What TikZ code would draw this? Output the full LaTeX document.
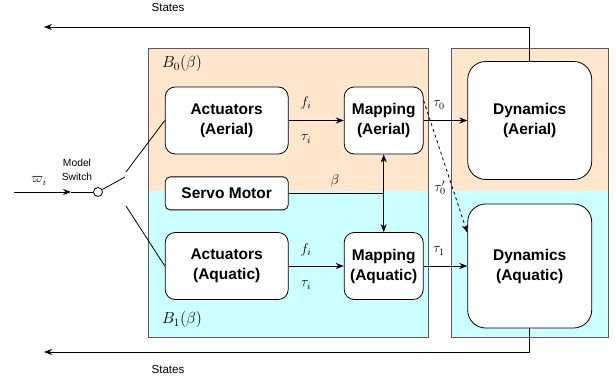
\RequirePackage{fix-cm}
\documentclass[tikz,border=0pt]{standalone}
\usepackage{fontspec}
\setsansfont{Liberation Sans}
\usetikzlibrary{arrows.meta,calc}
\definecolor{peach}{HTML}{FFE6CC}
\definecolor{aqua}{HTML}{CCFFFF}
\definecolor{frame}{HTML}{5A5A5A}
\tikzset{
  blk/.style={draw=black, line width=0.8pt, fill=white, rounded corners=10pt,
    align=center, font=\sffamily\bfseries\fontsize{15.5}{20}\selectfont,
    inner sep=0pt},
  dyn/.style={blk, rounded corners=18pt},
  wire/.style={line width=0.8pt, draw=black},
  arr/.style={wire, -{Stealth[length=8pt,width=6pt]}},
  lbl/.style={font=\sffamily\fontsize{11.6}{14}\selectfont, align=center},
  swlbl/.style={font=\sffamily\fontsize{10.3}{14}\selectfont, align=center},
  mlbl/.style={font=\fontsize{14}{16}\selectfont},
  blbl/.style={font=\fontsize{16}{18}\selectfont},
  region/.style={draw=frame, line width=0.9pt}
}
\begin{document}
\begin{tikzpicture}[x=1pt,y=-1pt]
\useasboundingbox (0,0) rectangle (616,379);

% coloured regions of the two mode blocks
\fill[peach] (148,48) rectangle (428,191);
\fill[aqua]  (148,191) rectangle (428,337);
\draw[region] (148,48) rectangle (428,337);
\fill[peach] (451,48) rectangle (608,191);
\fill[aqua]  (451,191) rectangle (608,337);
\draw[region] (451,48) rectangle (608,337);

\node[blbl] (b0) at (182,64) {$B_0(\beta)$};
\node[blbl] (b1) at (182,320) {$B_1(\beta)$};

% blocks
\node[blk, minimum width=123pt, minimum height=67pt] (actA) at (226.7,120.5) {Actuators\\(Aerial)};
\node[blk, minimum width=79pt, minimum height=67pt] (mapA) at (383.7,120.5) {Mapping\\(Aerial)};
\node[blk, rounded corners=5pt, minimum width=123pt, minimum height=33pt] (servo) at (226.7,193.4) {Servo Motor};
\node[blk, minimum width=123pt, minimum height=67pt] (actQ) at (226.7,266) {Actuators\\(Aquatic)};
\node[blk, minimum width=79pt, minimum height=67pt] (mapQ) at (383.7,266) {Mapping\\(Aquatic)};
\node[dyn, minimum width=124pt, minimum height=118pt] (dynA) at (529.7,120.5) {Dynamics\\(Aerial)};
\node[dyn, minimum width=124pt, minimum height=124pt] (dynQ) at (529.7,266) {Dynamics\\(Aquatic)};

% actuators to mapping
\draw[arr] (actA) -- (mapA);
\node[mlbl] (fA) at (306,103) {$f_i$};
\node[mlbl] (tA) at (306,139) {$\tau_i$};
\draw[arr] (actQ) -- (mapQ);
\node[mlbl] (fQ) at (306,250) {$f_i$};
\node[mlbl] (tQ) at (306,285) {$\tau_i$};

% mapping to dynamics
\draw[arr] (mapA) -- (dynA);
\node[mlbl] (t0) at (439,105) {$\tau_0$};
\draw[arr] (mapQ) -- (dynQ);
\node[mlbl] (t1) at (439,251) {$\tau_1$};
\coordinate (dsA) at ($(mapA.east)+(0,-20)$);
\coordinate (dsQ) at ($(dynQ.north west)+(0,29)$);
\draw[arr, dashed] (dsA) -- (dsQ);
\node[mlbl] (t0p) at (440,188) {$\tau_0'$};

% servo motor and mode coupling
\draw[arr, {Stealth[length=8pt,width=6pt]}-{Stealth[length=8pt,width=6pt]}] (mapA) -- (mapQ);
\coordinate (sj) at (mapA.south |- servo.east);
\draw[wire] (servo.east) -- (sj);
\node[mlbl] (beta) at (335,181) {$\beta$};

% state feedback
\coordinate (stA) at (44,27);
\coordinate (stQ) at (44,352);
\draw[arr] (dynA.north) |- (stA);
\draw[arr] (dynQ.south) |- (stQ);
\node[lbl] (statesA) at (168,8) {States};
\node[lbl] (statesQ) at (168,370) {States};

% model switch
\node[circle, draw=black, line width=0.8pt, fill=white, minimum size=9pt, inner sep=0pt] (sw) at (98,192) {};
\coordinate (in) at (14,192);
\coordinate (inTip) at (71,192);
\draw[arr] (in) -- (inTip);
\draw[wire] (inTip) -- (sw.west);
\node[mlbl] (w) at (39,181) {$\varpi_i$};
\node[swlbl] (swl) at (77,170) {Model\\Switch};
\coordinate (lever) at (125,177);
\draw[wire] (sw.30) -- (lever);
\coordinate (cA) at (126,172);
\coordinate (cQ) at (126,206);
\draw[wire] (cA) -- (actA.west);
\draw[wire] (cQ) -- (actQ.west);
\end{tikzpicture}
\end{document}
